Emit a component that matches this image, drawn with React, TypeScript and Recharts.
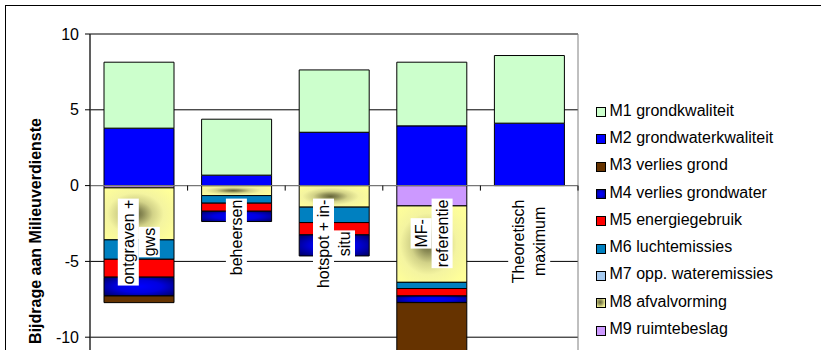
import React from 'react';
import {
  BarChart,
  Bar,
  XAxis,
  YAxis,
  CartesianGrid,
  ReferenceLine,
  ReferenceArea,
} from 'recharts';

// Remediation variants (categories) and their wrapped axis labels
const categories = [
  'ontgraven + gws',
  'beheersen',
  'hotspot + in-situ',
  'MF-referentie',
  'Theoretisch maximum',
];
const categoryLines = [
  ['ontgraven +', 'gws'],
  ['beheersen'],
  ['hotspot + in-', 'situ'],
  ['MF-', 'referentie'],
  ['Theoretisch', 'maximum'],
];

// Contribution per criterion (M1..M9); null = no contribution
const m1Grondkwaliteit = [4.35, 3.69, 4.11, 4.2, 4.46];
const m2Grondwaterkwaliteit = [3.79, 0.69, 3.52, 3.94, 4.12];
const m3VerliesGrond = [-0.44, null, null, -4.3, null];
const m4VerliesGrondwater = [-1.24, -0.68, -1.39, -0.44, null];
const m5Energiegebruik = [-1.18, -0.53, -0.81, -0.49, null];
const m6Luchtemissies = [-1.28, -0.5, -1.02, -0.41, null];
const m7OppWateremissies = [null, null, null, null, null];
const m8Afvalvorming = [-3.43, -0.66, -1.42, -5.04, null];
const m9Ruimtebeslag = [-0.15, null, null, -1.34, null];

const yTicks = [-10, -5, 0, 5, 10];
const yDomain: [number, number] = [-15, 10];
const yAxisTitle = 'Bijdrage aan Milieuverdienste';

const series = [
  { key: 'm1', name: 'M1 grondkwaliteit', values: m1Grondkwaliteit },
  { key: 'm2', name: 'M2 grondwaterkwaliteit', values: m2Grondwaterkwaliteit },
  { key: 'm3', name: 'M3 verlies grond', values: m3VerliesGrond },
  { key: 'm4', name: 'M4 verlies grondwater', values: m4VerliesGrondwater },
  { key: 'm5', name: 'M5 energiegebruik', values: m5Energiegebruik },
  { key: 'm6', name: 'M6 luchtemissies', values: m6Luchtemissies },
  { key: 'm7', name: 'M7 opp. wateremissies', values: m7OppWateremissies },
  { key: 'm8', name: 'M8 afvalvorming', values: m8Afvalvorming },
  { key: 'm9', name: 'M9 ruimtebeslag', values: m9Ruimtebeslag },
];

// Fill styles: SVG fills for the bars, CSS backgrounds for the legend swatches
const fills: Record<string, { svg: string; css: string }> = {
  m1: { svg: '#CCFFCC', css: '#CCFFCC' },
  m2: { svg: '#0000FF', css: '#0000FF' },
  m3: { svg: '#663300', css: '#663300' },
  m4: {
    svg: 'url(#fillM4)',
    css: 'radial-gradient(circle, #0000ff 0%, #0000dd 45%, #000070 100%)',
  },
  m5: { svg: '#FF0000', css: '#FF0000' },
  m6: { svg: '#0080C0', css: '#0080C0' },
  m7: { svg: '#A6CAF0', css: '#A6CAF0' },
  m8: {
    svg: 'url(#fillM8)',
    css: 'radial-gradient(circle at 40% 40%, #66663a 0%, #9a9a60 35%, #e6e690 70%, #ffff99 100%)',
  },
  m9: { svg: '#CC99FF', css: '#CC99FF' },
};

const data = categories.map((name, i) => {
  const row: Record<string, string | number | null> = { name };
  series.forEach((s) => {
    row[s.key] = s.values[i];
  });
  return row;
});

// Stack order: M9 nearest to zero on the negative side, M2 at the base on the positive side
const stackOrder = ['m9', 'm8', 'm7', 'm6', 'm5', 'm4', 'm3', 'm2', 'm1'];

const FONT = '"Liberation Sans", Arial, Helvetica, sans-serif';
const FONT_SIZE = 16;

// Approximate glyph advance widths (em) for Arial-metric fonts
const CHAR_W: Record<string, number> = {
  ' ': 0.278, '+': 0.584, '-': 0.333, M: 0.833, F: 0.611, T: 0.611,
  a: 0.556, b: 0.556, c: 0.5, d: 0.556, e: 0.556, f: 0.278, g: 0.556,
  h: 0.556, i: 0.222, j: 0.222, k: 0.5, l: 0.222, m: 0.833, n: 0.556,
  o: 0.556, p: 0.556, r: 0.333, s: 0.5, t: 0.278, u: 0.556, v: 0.5,
  w: 0.722, x: 0.5,
};
const textWidth = (s: string, size: number) =>
  Array.from(s).reduce((w, c) => w + (CHAR_W[c] ?? 0.556), 0) * size;

// Category labels written vertically just below the zero line, plus the
// category separator ticks on that line.
function CategoryLabels(props: any) {
  const vb = props.viewBox;
  if (!vb) return null;
  const band = vb.width / categories.length;
  const zeroY = vb.y;
  const lineH = 21;
  return (
    <g>
      {categories.map((_, k) => (
        <line
          key={`tick-${k}`}
          x1={vb.x + band * (k + 1)}
          x2={vb.x + band * (k + 1)}
          y1={zeroY}
          y2={zeroY + 5}
          stroke="#000"
          strokeWidth={1}
        />
      ))}
      {categories.map((cat, i) => {
        const cx = vb.x + band * (i + 0.5);
        const lines = categoryLines[i];
        const widths = lines.map((l) => textWidth(l, FONT_SIZE));
        const maxW = Math.max(...widths);
        return (
          <g key={cat} transform={`translate(${cx}, ${zeroY + 14}) rotate(-90)`}>
            {lines.map((l, j) => {
              const ly = (j - (lines.length - 1) / 2) * lineH;
              return (
                <g key={l}>
                  <rect
                    x={-maxW / 2 - widths[j] / 2 - 1}
                    y={ly - lineH / 2}
                    width={widths[j] + 2}
                    height={lineH}
                    fill="#fff"
                  />
                  <text
                    x={-maxW / 2}
                    y={ly}
                    dy="0.36em"
                    textAnchor="middle"
                    fontSize={FONT_SIZE}
                    fontFamily={FONT}
                    fill="#000"
                  >
                    {l}
                  </text>
                </g>
              );
            })}
          </g>
        );
      })}
    </g>
  );
}

function AxisTitle() {
  return (
    <text
      transform="translate(35, 231) rotate(-90)"
      textAnchor="middle"
      dy="0.36em"
      fontSize={FONT_SIZE}
      fontWeight="bold"
      fontFamily={FONT}
      fill="#000"
    >
      {yAxisTitle}
    </text>
  );
}

function Legend() {
  return (
    <div
      style={{
        position: 'absolute',
        left: 595.5,
        top: 97,
        fontFamily: FONT,
        fontSize: FONT_SIZE,
        color: '#000',
      }}
    >
      {series.map((s) => (
        <div
          key={s.key}
          style={{ height: 27.3, display: 'flex', alignItems: 'center', whiteSpace: 'nowrap' }}
        >
          <span
            style={{
              display: 'inline-block',
              width: 10,
              height: 10,
              boxSizing: 'border-box',
              border: '1px solid #000',
              background: fills[s.key].css,
              marginRight: 4,
              marginTop: 3,
            }}
          />
          <span>{s.name}</span>
        </div>
      ))}
    </div>
  );
}

export default function App() {
  return (
    <div
      style={{
        position: 'fixed',
        left: 0,
        top: 0,
        width: 821,
        height: 350,
        overflow: 'hidden',
        background: '#fff',
        fontFamily: FONT,
      }}
    >
      <div
        style={{
          position: 'absolute',
          left: 5,
          top: 5,
          width: 900,
          height: 500,
          border: '1px solid #000',
        }}
      />
      <div style={{ position: 'absolute', left: 0, top: 0 }}>
        <BarChart
          width={821}
          height={440}
          data={data}
          stackOffset="sign"
          margin={{ top: 34, right: 243, bottom: 27, left: 0 }}
          barSize={70}
        >
          <defs>
            <radialGradient id="fillM4" cx="50%" cy="50%" r="65%">
              <stop offset="0%" stopColor="#0000ff" />
              <stop offset="50%" stopColor="#0000e0" />
              <stop offset="100%" stopColor="#000070" />
            </radialGradient>
            <radialGradient id="fillM8" cx="45%" cy="50%" r="65%">
              <stop offset="0%" stopColor="#66663a" />
              <stop offset="16%" stopColor="#8c8c56" />
              <stop offset="38%" stopColor="#d2d288" />
              <stop offset="62%" stopColor="#f4f4a0" />
              <stop offset="100%" stopColor="#ffff99" />
            </radialGradient>
          </defs>
          <CartesianGrid vertical={false} stroke="#000" strokeWidth={1} />
          <XAxis dataKey="name" hide />
          <YAxis
            width={90}
            domain={yDomain}
            ticks={yTicks}
            interval={0}
            allowDataOverflow
            stroke="#000"
            tickSize={5}
            tickMargin={6}
            tick={{ fill: '#000', fontSize: FONT_SIZE, fontFamily: FONT }}
            tickLine={{ stroke: '#000' }}
            axisLine={{ stroke: '#000' }}
            label={<AxisTitle />}
          />
          <ReferenceArea
            y1={yDomain[0]}
            y2={yDomain[1]}
            fill="none"
            stroke="#808080"
            strokeWidth={1}
            ifOverflow="visible"
          />
          {stackOrder.map((key) => {
            const s = series.find((x) => x.key === key)!;
            return (
              <Bar
                key={key}
                dataKey={key}
                name={s.name}
                stackId="variant"
                fill={fills[key].svg}
                stroke="#000"
                strokeWidth={1}
                isAnimationActive={false}
              />
            );
          })}
          <ReferenceLine
            y={0}
            stroke="#808080"
            strokeWidth={1}
            label={(p: any) => <CategoryLabels {...p} />}
          />
        </BarChart>
      </div>
      <Legend />
    </div>
  );
}
